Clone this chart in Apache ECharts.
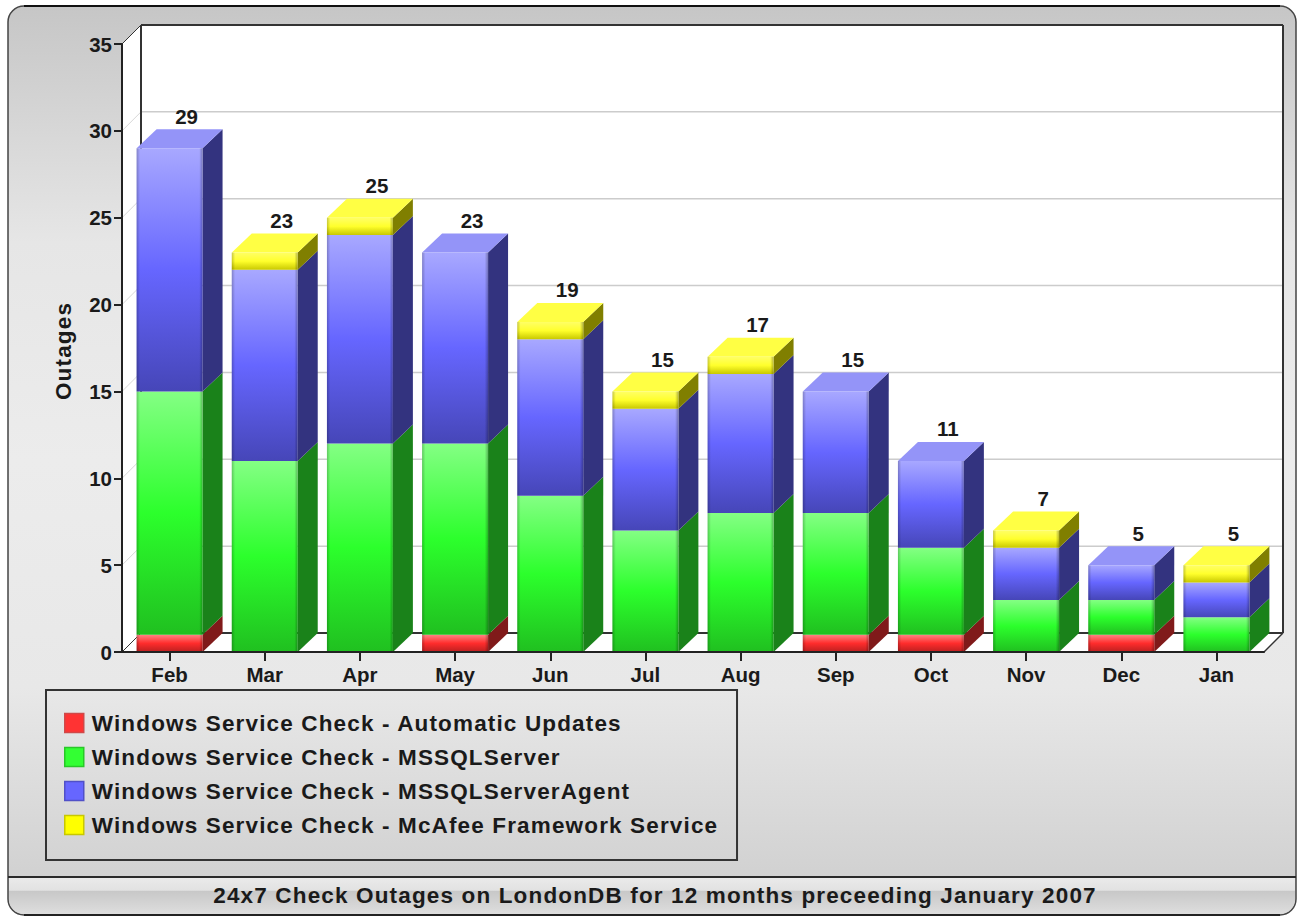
<!DOCTYPE html>
<html><head><meta charset="utf-8">
<style>html,body{margin:0;padding:0;background:#fff}#c{width:1297px;height:917px}
#c text[style*="22.5px"]{letter-spacing:1.15px}
</style>
<script src="https://cdn.jsdelivr.net/npm/echarts@6/dist/echarts.min.js"></script>
</head><body><div id="c"></div>
<script>
const months = ['Feb','Mar','Apr','May','Jun','Jul','Aug','Sep','Oct','Nov','Dec','Jan'];
const automaticUpdates = [1,0,0,1,0,0,0,1,1,0,1,0];
const msSqlServer      = [14,11,12,11,9,7,8,7,5,3,2,2];
const msSqlAgent       = [14,11,12,11,9,7,8,7,5,3,2,2];
const mcAfee           = [0,1,1,0,1,1,1,0,0,1,0,1];
const totals           = [29,23,25,23,19,15,17,15,11,7,5,5];
const yTicks = [5,10,15,20,25,30];
const seriesNames = [
  'Windows Service Check - Automatic Updates',
  'Windows Service Check - MSSQLServer',
  'Windows Service Check - MSSQLServerAgent',
  'Windows Service Check - McAfee Framework Service'
];
const titleText = '24x7 Check Outages on LondonDB for 12 months preceeding January 2007';
const allValues = [automaticUpdates, msSqlServer, msSqlAgent, mcAfee];
const DX = 20, DY = 19, WX = 19;
const G = echarts.graphic;
const palette = [
  {base:'#ff3333', light:'#ff8484', mid:'#ff2c2c', dark:'#bb2020', side:'#801a1a', top:'#ff8080', border:'#d04848'},
  {base:'#33ff33', light:'#84ff84', mid:'#2cff2c', dark:'#20c020', side:'#1a821a', top:'#80ff80', border:'#28c828'},
  {base:'#6666ff', light:'#a8a8ff', mid:'#6666ff', dark:'#4646b8', side:'#33337f', top:'#9494f8', border:'#5050c8'},
  {base:'#ffff00', light:'#ffff66', mid:'#ffff2c', dark:'#c8c800', side:'#807f00', top:'#ffff44', border:'#c8c800'}
];

function stackRender(si){
  return function(params, api){
    const i = api.value(0), lo = api.value(1), hi = api.value(2);
    if (hi <= lo) return;
    const c = palette[si];
    const pLo = api.coord([i, lo]), pHi = api.coord([i, hi]);
    const w = api.size([1,0])[0] * 0.693;
    const l = pLo[0] - w/2, r = pLo[0] + w/2, t = pHi[1], b = pLo[1];
    const kids = [];
    kids.push({type:'polygon', shape:{points:[[r,t],[r+DX,t-DY],[r+DX,b-DY],[r,b]]}, style:{fill:c.side}});
    if (hi === totals[i]) {
      kids.push({type:'polygon', shape:{points:[[l,t],[l+DX,t-DY],[r+DX,t-DY],[r,t]]}, style:{fill:c.top}});
    }
    kids.push({type:'rect', shape:{x:l,y:t,width:r-l,height:b-t},
      style:{fill:new G.LinearGradient(0,0,0,1,[{offset:0,color:c.light},{offset:0.5,color:c.mid},{offset:1,color:c.dark}])}});
    kids.push({type:'rect', shape:{x:l,y:t,width:r-l,height:b-t},
      style:{fill:new G.LinearGradient(0,0,1,0,[
        {offset:0,color:'rgba(0,0,0,0.22)'},{offset:0.05,color:'rgba(0,0,0,0)'},
        {offset:0.95,color:'rgba(0,0,0,0)'},{offset:1,color:'rgba(0,0,0,0.28)'}])}});
    return {type:'group', children:kids};
  };
}

function wallRender(params, api){
  const s = params.coordSys, x0 = s.x, x1 = s.x + s.width, y0 = s.y, y1 = s.y + s.height;
  const dark = '#333', kids = [];
  kids.push({type:'polygon', shape:{points:[[x0,y0],[x0+WX,y0-DY],[x1+WX,y0-DY],[x1+WX,y1-DY],[x1,y1],[x0,y1]]}, style:{fill:'#fff'}});
  yTicks.forEach(v => {
    const y = api.coord([0,v])[1];
    kids.push({type:'line', shape:{x1:x0,y1:y,x2:x0+WX,y2:y-DY}, style:{stroke:'#d8d8d8',lineWidth:1}});
    kids.push({type:'line', shape:{x1:x0+WX,y1:y-DY,x2:x1+WX,y2:y-DY}, style:{stroke:'#cccccc',lineWidth:1.5}});
  });
  const L = (a,b,c,d,lw) => kids.push({type:'line', shape:{x1:a,y1:b,x2:c,y2:d}, style:{stroke:dark,lineWidth:lw}});
  L(x0+WX,y0-DY,x1+WX,y0-DY,2);
  L(x0+WX,y0-DY,x0+WX,y1-DY,2);
  L(x1+WX,y0-DY,x1+WX,y1-DY,2);
  L(x0+WX,y1-DY,x1+WX,y1-DY,2);
  L(x0,y0,x0+WX,y0-DY,1);
  L(x0,y1,x0+WX,y1-DY,1);
  L(x1,y1,x1+WX,y1-DY,1.5);
  return {type:'group', children:kids};
}

const running = months.map(() => 0);
const stackSeries = allValues.map((vals, si) => {
  const data = vals.map((v,i) => { const lo = running[i]; running[i] += v; return [i, lo, running[i]]; });
  return {type:'custom', name:seriesNames[si], z:2, clip:false, renderItem:stackRender(si),
    encode:{x:0,y:[1,2]}, itemStyle:{color:palette[si].base}, data};
});

const chart = echarts.init(document.getElementById('c'), null, {renderer:'svg'});
const font = '"Liberation Sans", Arial, sans-serif';
chart.setOption({
  animation:false,
  backgroundColor:'#ffffff',
  graphic:{elements:[
    {type:'rect', z:-5, silent:true, shape:{x:8,y:6,width:1288,height:909,r:16},
      style:{stroke:'#444',lineWidth:1.5,fill:new G.LinearGradient(0,0,0,1,[
        {offset:0,color:'#c6c6c6'},{offset:0.26,color:'#e6e6e6'},{offset:0.5,color:'#ececec'},
        {offset:0.75,color:'#e8e8e8'},{offset:0.95,color:'#d2d2d2'},{offset:1,color:'#d0d0d0'}])}},
    {type:'rect', z:-4, silent:true, shape:{x:9,y:878,width:1286,height:36,r:[0,0,15,15]},
      style:{fill:new G.LinearGradient(0,0,0,1,[
        {offset:0,color:'#eaeaea'},{offset:0.34,color:'#e2e2e2'},{offset:0.37,color:'#c8c8c8'},{offset:1,color:'#dedede'}])}},
    {type:'line', z:-3, silent:true, shape:{x1:8,y1:877,x2:1296,y2:877}, style:{stroke:'#2a2a2a',lineWidth:2}},
    {type:'line', z:-3, silent:true, shape:{x1:24,y1:6,x2:1280,y2:6}, style:{stroke:'#111',lineWidth:2}},
    {type:'line', z:-3, silent:true, shape:{x1:24,y1:915,x2:1280,y2:915}, style:{stroke:'#222',lineWidth:2}}
  ]},
  title:{text:titleText, left:650, textAlign:'center', top:879,
    textStyle:{fontFamily:font,fontWeight:'bold',fontSize:22.5,color:'#1a1a1a'}},
  grid:{left:122,right:33,top:44,bottom:265,containLabel:false},
  legend:{
    orient:'vertical', left:46, top:690, itemWidth:19, itemHeight:19, itemGap:11, icon:'rect',
    padding:[21.5,74,23.5,18], borderColor:'#333', borderWidth:2, selectedMode:false,
    itemStyle:{borderWidth:1.5},
    textStyle:{fontFamily:font,fontWeight:'bold',fontSize:22.5,lineHeight:20,color:'#1a1a1a',padding:[0,0,0,3]},
    data:seriesNames.map((n,i)=>({name:n,icon:'rect',itemStyle:{color:palette[i].base,borderColor:palette[i].border,borderWidth:1.5}}))
  },
  xAxis:{type:'category',data:months,z:3,
    axisLine:{show:true,lineStyle:{color:'#222',width:2}},
    axisTick:{show:true,alignWithLabel:true,length:9,lineStyle:{color:'#222',width:2}},
    axisLabel:{fontFamily:font,fontWeight:'bold',fontSize:20.5,color:'#1a1a1a',margin:12},
    splitLine:{show:false}},
  yAxis:{type:'value',min:0,max:35,interval:5,z:3,
    name:'Outages',nameLocation:'middle',nameRotate:90,nameGap:47,
    nameTextStyle:{fontFamily:font,fontWeight:'bold',fontSize:22.5,color:'#1a1a1a',padding:[0,6,0,0]},
    axisLine:{show:true,lineStyle:{color:'#222',width:2}},
    axisTick:{show:true,length:8,lineStyle:{color:'#222',width:2}},
    axisLabel:{fontFamily:font,fontWeight:'bold',fontSize:20.5,color:'#1a1a1a',margin:10,padding:[0,0,2,0]},
    splitLine:{show:false}},
  series:[
    {type:'custom',name:'walls',z:1,clip:false,renderItem:wallRender,encode:{x:0,y:1},silent:true,data:[[0,0]]},
    ...stackSeries,
    {type:'custom',name:'totals',z:4,clip:false,encode:{x:0,y:1},
      data:totals.map((v,i)=>[i,v]),
      renderItem(params,api){
        const p = api.coord([api.value(0),api.value(1)]);
        return {type:'text',x:p[0]+17,y:p[1]-32,
          style:{text:String(api.value(1)),fill:'#1a1a1a',align:'center',verticalAlign:'middle',
            font:'bold 20.5px '+font}};
      }}
  ]
});
</script></body></html>
